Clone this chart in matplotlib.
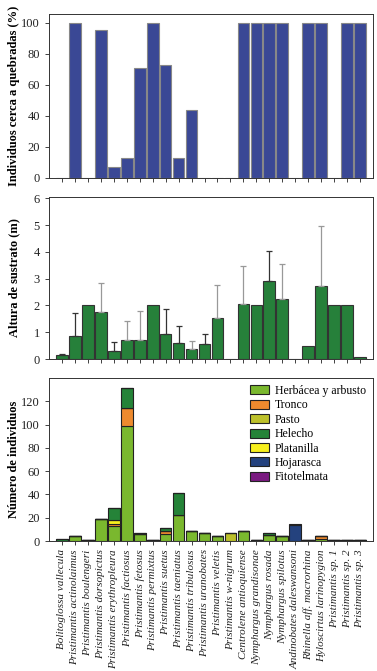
import numpy as np
import matplotlib.pyplot as plt

plt.rcParams['font.family'] = ['Liberation Serif', 'DejaVu Serif']

especies = [
    "Bolitoglossa vallecula", "Pristimantis actinolaimus", "Pristimantis boulengeri",
    "Pristimantis dorsopictus", "Pristimantis erythropleura", "Pristimantis factiosus",
    "Pristimantis fetosus", "Pristimantis permixtus", "Pristimantis suetus",
    "Pristimantis taeniatus", "Pristimantis tribulosus", "Pristimantis uranobates",
    "Pristimantis veletis", "Pristimantis w-nigrum", "Centrolene antioquiense",
    "Nymphargus grandisonae", "Nymphargus rosada", "Nymphargus spilotus",
    "Andinobates daleswansoni", "Rhinella aff. macrorhina", "Hyloscirtus larinopygion",
    "Pristimantis sp. 1", "Pristimantis sp. 2", "Pristimantis sp. 3",
]

# % individuos cerca a quebradas
quebradas = [0, 100, 0, 95, 7, 13, 71, 100, 73, 13, 44, 0,
             0, 0, 100, 100, 100, 100, 0, 100, 100, 0, 100, 100]

# altura de sustrato (m) y desviacion
altura = [0.15, 0.87, 2.0, 1.75, 0.3, 0.7, 0.72, 2.0, 0.93, 0.58, 0.38, 0.55,
          1.52, 0, 2.05, 2.0, 2.92, 2.25, 0, 0.5, 2.73, 2.0, 2.0, 0.08]
altura_de = [0.04, 0.83, 0, 1.07, 0.33, 0.73, 1.06, 0, 0.92, 0.64, 0.29, 0.37,
             1.25, 0, 1.42, 0, 1.13, 1.28, 0, 0, 2.24, 0, 0, 0]
err_col = ['#333333', '#333333', '#888888', '#999999', '#333333', '#999999',
           '#999999', '#333333', '#333333', '#333333', '#999999', '#333333',
           '#999999', '#333333', '#999999', '#333333', '#333333', '#999999',
           '#333333', '#333333', '#999999', '#333333', '#333333', '#333333']

# numero de individuos por sustrato
sustratos = ["Herbácea y arbusto", "Tronco", "Pasto", "Helecho",
             "Platanilla", "Hojarasca", "Fitotelmata"]
herbacea = [0, 4, 0.8, 19, 13, 99, 6, 0.8, 6, 22, 9, 7,
            4, 0, 9, 0.8, 5, 4, 0, 0.8, 2, 0.8, 0.8, 0.8]
tronco = [0, 0, 0, 0, 2, 15, 0, 0, 3, 0, 0, 0,
          0, 0, 0, 0, 0, 0, 0, 0, 2, 0, 0, 0]
pasto = [0, 0, 0, 0, 0, 0, 0, 0, 0, 0, 0, 0,
         0, 7, 0, 0, 0, 0, 0, 0, 0, 0, 0, 0]
helecho = [2, 0, 0, 0, 10, 17, 1, 0, 2, 19, 0, 0,
           0, 0, 0, 0, 2, 0, 0, 0, 0, 0, 0, 0]
platanilla = [0, 0, 0, 0, 3, 0, 0, 0, 0, 0, 0, 0,
              0, 0, 0, 0, 0, 0, 0, 0, 0, 0, 0, 0]
hojarasca = [0, 0, 0, 0, 0, 0, 0, 0, 0, 0, 0, 0,
             0, 0, 0, 0, 0, 0, 13.5, 0, 0, 0, 0, 0]
fitotelmata = [0, 0, 0, 0, 0, 0, 0, 0, 0, 0, 0, 0,
               0, 0, 0, 0, 0, 0, 1.5, 0, 0, 0, 0, 0]

colores = ['#7ab82e', '#ee8a2e', '#bcc02a', '#258338', '#f7f01e', '#24427e', '#7a1a80']
# orden de apilado en la barra
orden = [0, 1, 4, 2, 3, 5, 6]
capas = [herbacea, tronco, pasto, helecho, platanilla, hojarasca, fitotelmata]

x = np.arange(len(especies))
W, H = 377, 671
fig = plt.figure(figsize=(W / 100, H / 100), dpi=100)

def panel(top, bottom):
    ax = fig.add_axes([49 / W, 1 - bottom / H, (373 - 49) / W, (bottom - top) / H])
    ax.set_xlim(-1, 24)
    ax.set_xticks(x)
    ax.tick_params(direction='out', length=3, width=0.6, labelsize=9, colors='#222222')
    for s in ax.spines.values():
        s.set_linewidth(0.7)
        s.set_color('#333333')
    return ax

ax1 = panel(14, 178)
ax1.bar(x, quebradas, width=0.9, color='#3a4895', edgecolor='#888888', linewidth=0.8)
ax1.set_ylim(0, 105.5)
ax1.set_yticks(range(0, 101, 20))
ax1.set_xticklabels([])
ax1.set_ylabel("Individuos cerca a quebradas (%)", fontsize=9, fontweight='bold')

ax2 = panel(197, 359)
ax2.bar(x, altura, width=0.9, color='#26803a', edgecolor='#333333', linewidth=0.8)
for i in range(len(x)):
    if altura_de[i] > 0:
        ax2.errorbar(x[i], altura[i], yerr=[[0], [altura_de[i]]], fmt='none',
                     ecolor=err_col[i], elinewidth=0.9, capsize=2.5, capthick=0.9)
ax2.set_ylim(0, 6.05)
ax2.set_yticks(range(0, 7))
ax2.set_xticklabels([])
ax2.set_ylabel("Altura de sustrato (m)", fontsize=9, fontweight='bold')

ax3 = panel(378, 541)
base = np.zeros(len(x))
handles = {}
for k in orden:
    vals = np.array(capas[k])
    b = ax3.bar(x, vals, bottom=base, width=0.9, color=colores[k],
                edgecolor='#222222', linewidth=0.8)
    handles[k] = b
    base = base + vals
ax3.set_ylim(0, 140)
ax3.set_yticks(range(0, 121, 20))
ax3.set_xticklabels(especies, rotation=90, fontstyle='italic', fontsize=8)
ax3.tick_params(axis='x', pad=3)
ax3.set_ylabel("Número de individuos", fontsize=9, fontweight='bold')
ax3.legend([handles[k] for k in range(7)], sustratos, loc='upper right',
           frameon=False, fontsize=8.5, handlelength=1.6, handleheight=0.8,
           labelspacing=0.2, borderaxespad=0.2, handletextpad=0.5)

for ax in (ax1, ax2, ax3):
    ax.yaxis.set_label_coords(-0.09, 0.5)

fig.savefig("out.png", dpi=100)
